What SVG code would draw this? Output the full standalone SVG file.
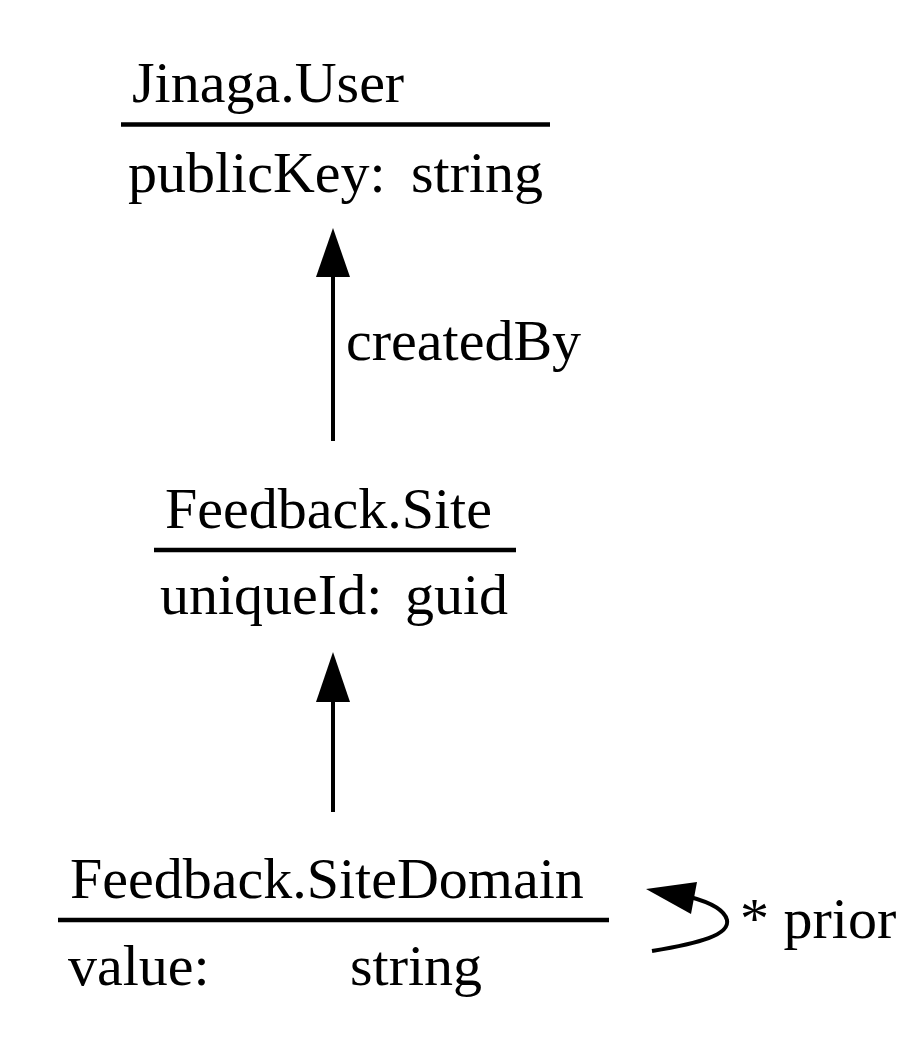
<svg xmlns="http://www.w3.org/2000/svg" width="913" height="1046" viewBox="0 0 913 1046">
<style>
text{font-family:"Liberation Serif","Times New Roman",serif;font-size:58px;fill:#000}
.rule{stroke:#000;stroke-width:4.5}
.edge{stroke:#000;stroke-width:4;fill:none}
.head{fill:#000}
</style>
<rect width="913" height="1046" fill="#fff"/>
<g id="user">
<text x="132" y="102">Jinaga.User</text>
<line class="rule" x1="121" y1="124.5" x2="550" y2="124.5"/>
<text x="128" y="192">publicKey:</text>
<text x="411" y="192">string</text>
</g>
<g id="site">
<text x="165" y="528">Feedback.Site</text>
<line class="rule" x1="154" y1="550" x2="516" y2="550"/>
<text x="160" y="614">uniqueId:</text>
<text x="405" y="614">guid</text>
</g>
<g id="sitedomain">
<text x="70" y="898">Feedback.SiteDomain</text>
<line class="rule" x1="58" y1="920" x2="609" y2="920"/>
<text x="68" y="985">value:</text>
<text x="350" y="985">string</text>
</g>
<g id="connectors">
<line class="edge" x1="333" y1="441" x2="333" y2="270"/>
<polygon class="head" points="333,228 316,277 350,277"/>
<text x="346" y="360">createdBy</text>
<line class="edge" x1="333" y1="812" x2="333" y2="695"/>
<polygon class="head" points="333,652 316,702 350,702"/>
<path class="edge" d="M652,951 C700,943 730,935 727,920 C724,908 705,901 690,897"/>
<polygon class="head" points="646,889 697,882 691,914"/>
<text x="740" y="938">* prior</text>
</g>
</svg>
